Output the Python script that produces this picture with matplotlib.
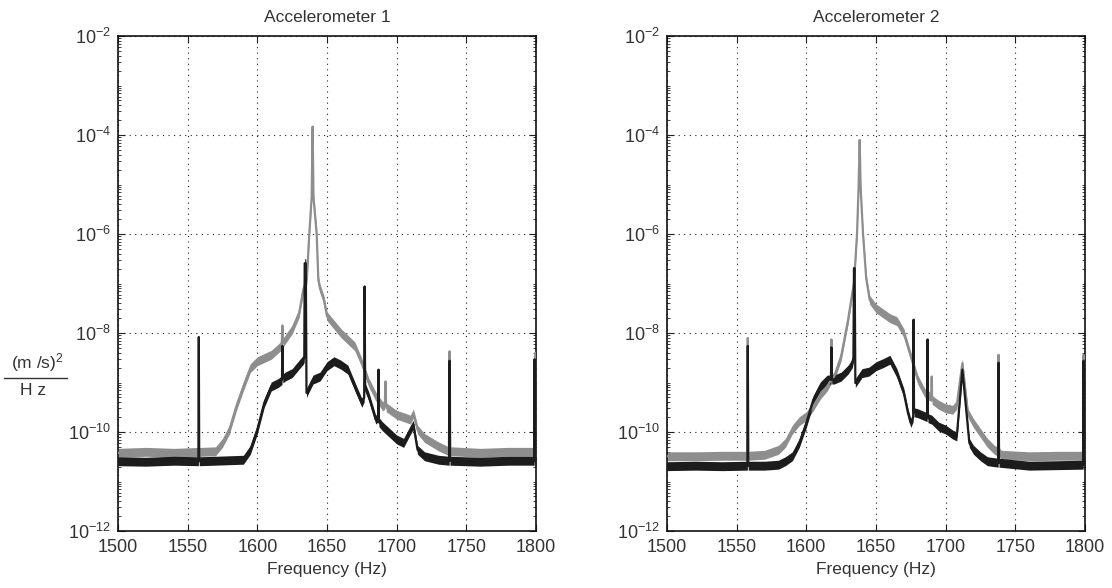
import numpy as np
import matplotlib
matplotlib.use("Agg")
import matplotlib.pyplot as plt
from matplotlib.ticker import FixedLocator, FuncFormatter

plt.rcParams['font.family'] = ['Liberation Sans', 'DejaVu Sans']
plt.rcParams['mathtext.default'] = 'regular'

# ---------------- data (log10 of PSD, (m/s)^2/Hz) ----------------
acc1_gray_f = [1500, 1520, 1540, 1570, 1575, 1580, 1585, 1590, 1595, 1600, 1610, 1617.5, 1618, 1618.5,
               1620, 1625, 1630, 1633, 1635.5, 1637.3, 1639, 1639.7, 1640.3, 1642.6, 1643.8, 1645,
               1647.8, 1650, 1660, 1670, 1675, 1680, 1685, 1690, 1691.5, 1692, 1692.5, 1700, 1710,
               1712, 1715, 1720, 1730, 1737.5, 1738, 1738.5, 1740, 1760, 1780, 1799, 1799.5, 1800]
acc1_gray_v = [-10.42, -10.40, -10.42, -10.39, -10.22, -9.95, -9.48, -9.08, -8.71, -8.57, -8.44, -8.25, -7.85, -8.20,
               -8.13, -7.93, -7.60, -7.12, -6.93, -6.00, -5.25, -3.83, -5.25, -6.00, -6.93, -7.10,
               -7.33, -7.66, -8.00, -8.27, -8.60, -9.00, -9.28, -9.48, -9.45, -8.98, -9.50, -9.65, -9.75,
               -9.62, -9.95, -10.12, -10.29, -10.39, -8.37, -10.39, -10.39, -10.42, -10.40, -10.40, -8.40, -8.40]

acc1_black_f = [1500, 1520, 1540, 1557.7, 1558, 1558.3, 1570, 1580, 1590, 1595, 1600, 1605, 1610, 1615,
                1617.7, 1618, 1618.3, 1620, 1625, 1630, 1633, 1633.7, 1634, 1634.8, 1635.3, 1640, 1645,
                1650, 1655, 1660, 1665, 1670, 1675, 1676.7, 1677, 1677.4, 1680, 1685, 1686.7, 1687,
                1687.3, 1690, 1700, 1705, 1710, 1712, 1715, 1720, 1730, 1737.7, 1738, 1738.3, 1760,
                1780, 1798.7, 1799, 1799.3, 1800]
acc1_black_v = [-10.59, -10.60, -10.58, -10.59, -8.08, -10.59, -10.58, -10.57, -10.56, -10.36, -9.95, -9.41, -9.08, -9.01,
                -8.95, -8.26, -8.92, -8.88, -8.81, -8.64, -8.54, -8.50, -6.59, -6.59, -9.21, -8.94, -8.88,
                -8.67, -8.57, -8.64, -8.74, -9.08, -9.41, -9.30, -7.06, -9.10, -9.28, -9.75, -9.70, -8.74,
                -9.80, -9.89, -10.15, -10.22, -9.95, -9.85, -10.36, -10.49, -10.56, -10.58, -8.56, -10.58, -10.60,
                -10.58, -10.58, -8.53, -10.58, -10.58]

acc2_gray_f = [1500, 1520, 1540, 1557.7, 1558, 1558.3, 1570, 1580, 1585, 1590, 1595, 1600, 1605, 1610,
               1615, 1617.7, 1618, 1618.3, 1620, 1625, 1630, 1633, 1634.2, 1636.4, 1637.5, 1638.3, 1639,
               1640.7, 1643, 1645.5, 1650, 1655, 1660, 1665, 1670, 1675, 1680, 1685, 1689.7, 1690,
               1690.3, 1695, 1700, 1705, 1708, 1712, 1716, 1720, 1725, 1730, 1735, 1737.7, 1738, 1738.3,
               1740, 1760, 1780, 1798.7, 1799, 1799.3, 1800]
acc2_gray_v = [-10.49, -10.49, -10.48, -10.48, -8.10, -10.48, -10.46, -10.36, -10.22, -9.95, -9.78, -9.68, -9.48, -9.25,
               -9.08, -8.95, -8.13, -8.92, -8.88, -8.47, -7.73, -7.19, -7.00, -6.00, -5.07, -4.10, -5.07,
               -6.00, -6.90, -7.33, -7.50, -7.60, -7.70, -7.76, -8.00, -8.47, -8.94, -9.21, -9.30, -8.88,
               -9.35, -9.45, -9.52, -9.55, -9.45, -8.61, -9.62, -9.82, -10.02, -10.22, -10.36, -10.40, -8.44, -10.40,
               -10.46, -10.49, -10.48, -10.48, -8.44, -10.48, -10.48]

acc2_black_f = [1500, 1520, 1540, 1557.7, 1558, 1558.3, 1570, 1580, 1585, 1590, 1595, 1600, 1605, 1610,
                1615, 1617.7, 1618, 1618.3, 1620, 1625, 1630, 1633, 1633.8, 1634.2, 1634.7, 1635.2, 1640,
                1645, 1650, 1655, 1660, 1665, 1670, 1673, 1675, 1676.7, 1677, 1677.3, 1680, 1685, 1686.7,
                1687, 1687.3, 1690, 1695, 1700, 1705, 1708, 1712, 1715, 1717, 1720, 1725, 1730, 1737.7,
                1738, 1738.3, 1760, 1780, 1798.7, 1799, 1799.3, 1800]
acc2_black_v = [-10.69, -10.68, -10.69, -10.68, -8.26, -10.68, -10.68, -10.66, -10.59, -10.49, -10.22, -9.82, -9.35, -9.08,
                -8.94, -8.94, -8.29, -8.94, -8.94, -8.88, -8.74, -8.61, -8.50, -6.69, -6.69, -9.01, -8.81,
                -8.78, -8.67, -8.61, -8.54, -8.81, -9.21, -9.62, -9.82, -9.70, -7.73, -9.60, -9.62, -9.68, -9.70,
                -8.13, -9.72, -9.75, -9.89, -9.95, -10.05, -10.09, -8.74, -9.62, -10.22, -10.36, -10.49, -10.59, -10.62,
                -8.60, -10.62, -10.68, -10.67, -10.66, -8.56, -10.66, -10.66]

noise_halfwidth = 0.09   # visible scatter of the measured traces, in decades

titles = ["Accelerometer 1", "Accelerometer 2"]
x_ticks = [1500, 1550, 1600, 1650, 1700, 1750, 1800]
y_tick_exps = [-12, -10, -8, -6, -4, -2]

series = [
    [(acc1_gray_f, acc1_gray_v), (acc1_black_f, acc1_black_v)],
    [(acc2_gray_f, acc2_gray_v), (acc2_black_f, acc2_black_v)],
]
colors = ['#8e8e8e', '#1c1c1c']

# ---------------- figure ----------------
fig = plt.figure(figsize=(11.12, 5.88), dpi=100)
positions = [[0.1061, 0.0969, 0.3759, 0.8418], [0.5998, 0.0969, 0.3759, 0.8418]]
txtcol = '#333333'

for k in range(2):
    ax = fig.add_axes(positions[k])
    for (f, v), c in zip(series[k], colors):
        f = np.asarray(f)
        v = np.asarray(v)
        ax.fill_between(f, 10 ** (v - noise_halfwidth), 10 ** (v + noise_halfwidth),
                        color=c, lw=0, zorder=2)
        ax.plot(f, 10 ** v, color=c, lw=1.6, zorder=3)
    ax.set_yscale('log')
    ax.set_xlim(1500, 1800)
    ax.set_ylim(1e-12, 1e-2)
    ax.set_xticks(x_ticks)
    ax.xaxis.set_major_formatter(FuncFormatter(lambda x, p: f"{int(x)}"))
    ax.yaxis.set_major_locator(FixedLocator([10.0 ** e for e in y_tick_exps]))
    minors = []
    for e in range(-12, -2):
        for m in range(1, 10):
            val = m * 10.0 ** e
            if m == 1 and e in y_tick_exps:
                continue
            minors.append(val)
    ax.yaxis.set_minor_locator(FixedLocator(minors))
    ax.yaxis.set_minor_formatter(FuncFormatter(lambda y, p: ""))
    ax.yaxis.set_major_formatter(FuncFormatter(
        lambda y, p: r"$10^{%d}$" % int(round(np.log10(y)))))
    ax.tick_params(which='both', direction='in', top=True, right=True,
                   colors='#222222', labelcolor=txtcol, labelsize=13)
    ax.tick_params(axis='x', pad=6)
    ax.tick_params(axis='y', pad=5)
    ax.tick_params(which='major', length=5, width=0.8)
    ax.tick_params(which='minor', length=2.5, width=0.6)
    ax.grid(True, which='major', linestyle=(0, (1, 4)), color='#222222', lw=0.8)
    for s in ax.spines.values():
        s.set_linewidth(1.2)
        s.set_color('#111111')
    ax.set_title(titles[k], fontsize=12.5, color=txtcol, pad=10)
    ax.set_xlabel("Frequency (Hz)", fontsize=12.5, color=txtcol, labelpad=4)

# y label as a fraction
fig.text(0.034, 0.364, r"(m /s)$^2$", fontsize=12.5, color=txtcol, ha='center', va='bottom')
fig.add_artist(plt.Line2D([0.004, 0.060], [0.357, 0.357], transform=fig.transFigure,
                          color=txtcol, lw=1.0))
fig.text(0.030, 0.349, "H z", fontsize=12.5, color=txtcol, ha='center', va='top')

fig.savefig("out.png", dpi=100)
